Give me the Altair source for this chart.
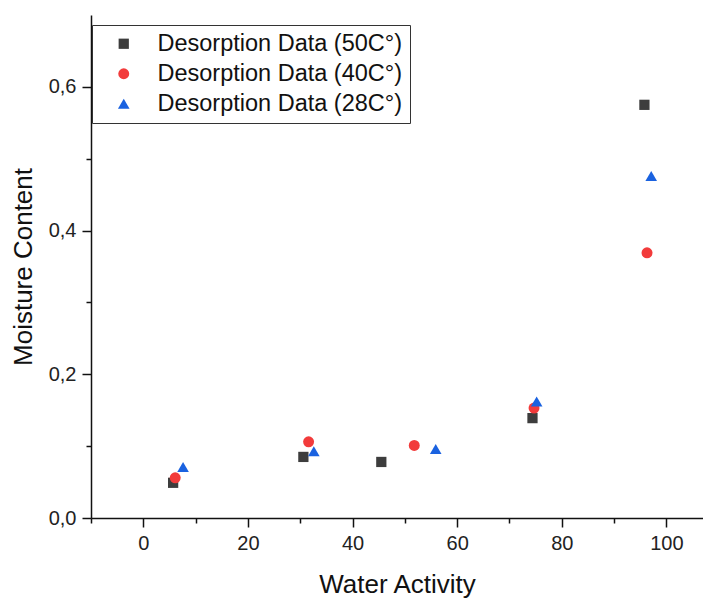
import altair as alt
import pandas as pd

series = ["Desorption Data (50C°)", "Desorption Data (40C°)", "Desorption Data (28C°)"]
aw_50 = [5.7, 30.6, 45.5, 74.4, 95.8]
mc_50 = [0.049, 0.085, 0.078, 0.139, 0.575]
aw_40 = [6.1, 31.6, 51.8, 74.7, 96.3]
mc_40 = [0.056, 0.106, 0.101, 0.153, 0.369]
aw_28 = [7.6, 32.6, 55.9, 75.2, 97.1]
mc_28 = [0.071, 0.093, 0.096, 0.162, 0.476]
colors = ["#3d3d3d", "#f23b3b", "#1a62e0"]
shapes = ["square", "circle", "triangle-up"]
sizes = [105, 135, 210]
x_major = [0, 20, 40, 60, 80, 100]
x_minor = [-10, 10, 30, 50, 70, 90]
y_major = [0.0, 0.2, 0.4, 0.6]
y_minor = [0.1, 0.3, 0.5]

rows = []
for name, xs, ys in zip(series, [aw_50, aw_40, aw_28], [mc_50, mc_40, mc_28]):
    for a, m in zip(xs, ys):
        rows.append({"series": name, "aw": a, "mc": m})
df = pd.DataFrame(rows)

FONT = "Liberation Sans"
xscale = alt.Scale(domain=[-10, 107], nice=False, zero=False)
yscale = alt.Scale(domain=[0, 0.7], nice=False)

minor = alt.Chart(df).mark_point(opacity=0).encode(
    x=alt.X("aw:Q", scale=xscale, title="",
            axis=alt.Axis(values=x_minor, labels=False, domain=False, tickSize=5,
                          tickWidth=1.5, tickColor="#111", grid=False, orient="bottom")),
    y=alt.Y("mc:Q", scale=yscale, title="",
            axis=alt.Axis(values=y_minor, labels=False, domain=False, tickSize=5,
                          tickWidth=1.5, tickColor="#111", grid=False, orient="left")),
)

points = alt.Chart(df).mark_point(filled=True, opacity=1).encode(
    x=alt.X("aw:Q", scale=xscale, title="Water Activity",
            axis=alt.Axis(values=x_major, format="d", tickSize=9, tickWidth=1.5,
                          tickColor="#111", domainColor="#111", domainWidth=1.5,
                          labelFont=FONT, labelFontSize=20, labelColor="#222",
                          labelPadding=6, titleFont=FONT, titleFontSize=26,
                          titleFontWeight="normal", titleColor="#111",
                          titlePadding=18, grid=False, orient="bottom")),
    y=alt.Y("mc:Q", scale=yscale, title="Moisture Content",
            axis=alt.Axis(values=y_major, labelExpr="replace(format(datum.value, '.1f'), '.', ',')",
                          tickSize=9, tickWidth=1.5, tickColor="#111",
                          domainColor="#111", domainWidth=1.5,
                          labelFont=FONT, labelFontSize=20, labelColor="#222",
                          labelPadding=6, titleFont=FONT, titleFontSize=26,
                          titleFontWeight="normal", titleColor="#111",
                          titlePadding=12, grid=False, orient="left")),
    color=alt.Color("series:N", scale=alt.Scale(domain=series, range=colors),
                    legend=alt.Legend(title=None, orient="none", legendX=1, legendY=10,
                                      strokeColor="#333", fillColor="white",
                                      padding=7, labelFont=FONT, labelFontSize=23.5,
                                      labelColor="#111", labelLimit=500, symbolSize=85,
                                      symbolOffset=13, labelOffset=22,
                                      rowPadding=5, symbolStrokeWidth=0)),
    shape=alt.Shape("series:N", scale=alt.Scale(domain=series, range=shapes)),
    size=alt.Size("series:N", scale=alt.Scale(domain=series, range=sizes), legend=None),
)

chart = alt.layer(minor, points).resolve_axis(x="independent", y="independent").properties(
    width=612, height=503,
    autosize=alt.AutoSizeParams(type="none"),
    padding={"left": 83, "top": 7, "right": 0, "bottom": 81},
).configure_view(strokeWidth=0)

chart.save("out.html", embed_options={"renderer": "svg", "actions": False})
